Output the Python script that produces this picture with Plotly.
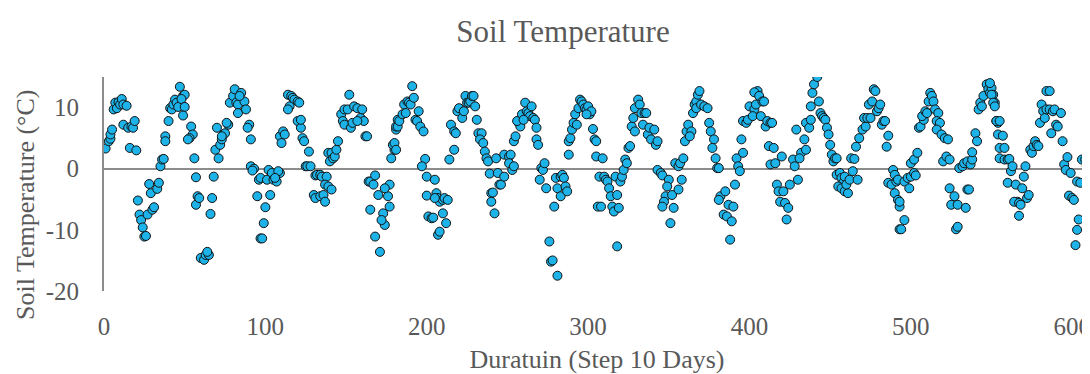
import plotly.graph_objects as go

# Step index (10-day steps) and soil temperature (°C)
step = [
    1, 3, 4, 4, 5, 6, 7, 8, 9, 10, 11, 12, 14, 12, 15, 17, 18, 19, 16, 20,
    21, 22, 23, 24, 25, 26, 27, 30, 31, 28, 29, 33, 34, 35, 36, 37, 38, 38, 40, 41,
    42, 43, 44, 45, 46, 47, 49, 50, 48, 50, 49, 54, 55, 53, 52, 56, 57, 58, 57, 60,
    59, 62, 63, 65, 64, 66, 67, 68, 69, 71, 70, 72, 73, 74, 75, 77, 76, 73,
    78, 80, 81, 82, 83, 85, 87, 84, 83, 88, 90, 89, 91, 91, 93, 92, 95, 96, 97,
    100, 99, 97, 98, 101, 102, 104, 105, 107, 109, 108, 106, 103,
    109, 111, 112, 110, 114, 116, 117, 118, 115, 114, 120, 122,
    120, 121, 122, 123, 124, 125, 127, 126, 128, 131, 132, 134, 135, 138, 137, 139, 141,
    130, 131, 134, 136, 137, 139, 140, 141, 142, 143, 144, 145,
    147, 148, 149, 151, 152, 149, 153, 154, 155, 157, 159, 160, 161, 157, 162, 163,
    164, 165, 167, 168, 170, 165, 173, 174, 172, 176, 177, 174, 177, 168, 171,
    178, 180, 179, 181, 181, 182,
    180, 181, 182, 183, 185, 186, 187, 188, 189, 190, 191, 192, 195, 193, 194, 196, 198,
    199, 197, 200, 205, 200, 206, 207, 208, 210, 211, 213, 205,
    201, 203, 204, 210, 212, 207, 208, 214, 217,
    215, 217, 218, 219, 220, 222, 223, 224, 225, 226, 227, 228, 229, 230, 231,
    232, 234, 233, 235, 236, 237, 238, 239, 240, 242, 240, 241, 243, 245, 244,
    246, 248, 248, 251, 252, 251, 253, 254, 254, 255,
    257, 258, 256, 259, 261, 262, 263, 265, 264, 266, 267, 268, 260, 268, 269,
    271, 272, 273, 270, 274, 279, 276, 277, 278, 281,
    280, 283, 284, 285, 281, 283, 286, 287,
    288, 288, 289, 290, 292, 291, 293, 294, 295, 296, 297, 298, 299, 300, 301, 302, 299,
    303, 304, 305, 305, 306, 307,
    310, 311, 312, 313, 314, 315, 316, 318, 319, 317, 309, 308, 318,
    320, 321, 322, 323, 324, 325, 326,
    327, 329, 328, 329, 331, 332, 333, 335, 336, 334, 337, 338, 341, 339, 342, 343,
    343, 345, 346, 350, 349, 348, 347, 346, 353, 351, 352, 356, 358,
    354, 356, 357, 359, 360, 361, 362, 364, 363, 365, 366, 367, 368, 369,
    367, 370, 372, 374, 375, 376, 378, 377, 379, 380, 381,
    382, 381, 385, 387, 390, 384, 386, 389, 388, 391,
    392, 393, 394, 396, 395,
    396, 398, 399, 400, 403, 402, 404, 405, 403, 406, 408, 409, 407, 410, 411, 413, 414,
    412, 415, 413, 416, 420,
    417, 418, 419, 421, 422, 424, 423, 425, 427, 428, 429, 430,
    432, 435, 434, 431,
    435, 437, 438, 438, 439, 440, 442, 443, 444, 445, 446, 447, 448, 449, 450, 451,
    452, 453, 454,
    454, 456, 457, 458, 459, 455, 457, 459, 461, 460,
    462, 464, 467, 463, 465,
    466, 468, 470, 472, 471, 473, 475, 474, 476, 477, 478, 479, 480, 481, 482, 483, 484,
    485, 486,
    486, 488, 489, 490, 491, 490, 492, 493, 493,
    492, 496, 498, 500, 499, 502, 503, 500, 502, 504,
    493, 496, 494,
    505, 506, 508, 507, 509, 510, 511, 512, 513, 514, 515, 517, 516, 518, 516, 519, 521, 523,
    520, 522, 524, 530, 532, 533, 535, 537, 538, 538,
    524, 527, 525, 529, 534, 535, 536, 528, 529,
    540, 541, 542, 543, 544, 545, 547, 548, 549, 550, 549, 551, 552, 553, 554, 554, 555, 555,
    550, 551, 552, 553, 555, 557, 558, 558, 560, 561, 562, 563, 560, 565, 566, 564, 567,
    568, 569, 571, 570, 572, 573, 567,
    574, 575, 576, 577, 578, 579,
    580, 581, 582, 583, 584, 586, 584, 586, 588, 589, 593, 587, 590, 591, 594,
    595, 596, 597, 599, 603, 605, 598, 600, 601, 604, 603, 602,
    606, 608, 609, 610, 609,
]

soil_temp = [
    3.3, 4.5, 4.9, 5.6, 6.4, 9.7, 10.8, 9.9, 10.9, 10.5, 11.4, 10.5, 10.3, 7.2, 6.7, 6.9, 6.7, 7.8, 3.4, 3.0,
    -5.2, -7.5, -8.4, -9.6, -11.1, -11.0, -7.5, -6.7, -6.3, -2.5, -4.0, -3.3, -2.3, 0.4, 1.5, 1.6, 5.3, 4.5, 7.8, 9.9,
    9.7, 10.5, 11.3, 10.8, 10.1, 13.4, 11.9, 12.1, 11.4, 10.1, 8.7, 6.9, 5.6, 5.0, 4.8, 1.7, -1.4, -4.5, -5.9, -14.6,
    -4.8, -14.9, -14.1, -14.1, -13.6, -7.4, -4.8, -1.3, 3.1, 1.7, 6.7, 3.9, 4.8, 5.6, 5.8, 7.2, 7.5, 5.3,
    10.8, 11.9, 13.0, 10.8, 10.5, 12.4, 11.0, 11.9, 9.1, 9.7, 7.2, 6.7, 4.8, 0.4, 0.0, -0.3, -4.5, -1.8, -1.5,
    -6.3, -8.9, -11.4, -11.4, -1.8, -0.2, -0.7, -1.8, -2.1, -0.7, -0.4, -1.5, -4.3,
    5.3, 6.1, 5.6, 4.2, 12.1, 11.9, 11.6, 11.3, 10.2, 9.7, 7.8, 6.7,
    11.0, 10.8, 8.0, 5.0, 4.5, 0.4, 2.8, 0.4, 0.4, -1.1, -1.0, -1.0, -1.3, -1.3, -2.6, -2.9, -3.4,
    -4.3, -4.8, -4.5, -4.3, -5.4, 2.6, 1.2, 2.6, 1.7, 2.0, 3.1, 4.5,
    8.9, 7.8, 9.7, 9.7, 12.1, 7.2, 6.7, 7.5, 10.2, 9.9, 8.3, 9.7, 7.8, 7.8, 5.3, 5.3,
    -2.1, -2.1, -2.6, -1.1, -4.3, -6.7, -7.3, -9.2, -8.4, -4.5, -2.6, -3.2, -6.2, -11.1, -13.6,
    1.7, 3.1, 3.9, 6.4, 6.9, 8.0,
    4.2, 3.1, 6.9, 7.8, 8.9, 10.5, 9.1, 11.0, 10.8, 10.5, 13.5, 11.6, 9.4, 8.0, 7.8, 6.9, 6.1,
    1.6, 0.4, -1.3, -1.8, -4.4, -4.0, -4.8, -5.4, -5.1, -4.8, -5.1, -4.8,
    -7.8, -8.1, -8.0, -7.3, -8.9, -10.8, -10.3, 1.5, 3.1,
    7.2, 6.1, 5.8, 9.4, 9.9, 8.3, 9.4, 11.9, 10.8, 10.8, 11.0, 11.9, 11.9, 10.2, 8.0,
    5.8, 5.8, 4.8, 4.2, 2.8, 1.7, 1.2, -0.8, -4.0, -7.3, -5.4, -3.9, 1.7, -2.6, -0.7,
    -2.6, -1.3, 2.3, 2.0, 2.3, 0.9, -0.2, 0.4, 4.5, 5.3,
    7.5, 6.9, 7.8, 8.9, 10.8, 9.4, 9.1, 10.2, 8.6, 8.3, 8.0, 6.7, 8.0, 4.8, 3.9,
    0.1, -0.2, 0.9, -1.8, -3.2, -6.2, -11.9, -15.2, -15.0, -17.5,
    -1.5, -1.3, -1.0, -1.5, -3.2, -4.5, -2.9, -3.7,
    2.3, 4.5, 5.0, 6.4, 8.9, 7.5, 7.2, 9.9, 11.3, 11.0, 10.5, 9.9, 9.7, 10.2, 8.9, 9.4, 8.9,
    6.5, 4.8, 4.5, 2.0, -6.2, -1.3,
    -1.3, -1.8, -2.1, -3.2, -4.5, -6.2, -7.0, -4.3, -6.4, -1.3, 1.7, -6.2, -12.7,
    -2.1, -1.3, -0.2, 1.5, 0.9, 3.4, 3.7,
    6.9, 6.1, 8.3, 9.9, 11.3, 10.5, 9.1, 9.1, 9.1, 7.2, 5.6, 6.7, 6.4, 4.8, 3.9, 4.5,
    -0.2, -0.7, -1.1, -1.8, -2.9, -4.5, -5.4, -6.2, -6.4, -8.9, -4.3, -3.4, -1.8,
    0.9, 0.4, 0.9, 1.7, 4.5, 6.1, 7.2, 6.1, 5.3, 9.1, 10.5, 11.0, 12.1, 12.7,
    9.9, 10.5, 10.2, 9.9, 7.5, 6.1, 4.8, 3.4, 1.7, 0.1, 0.1,
    -4.5, -5.1, -3.7, -5.9, -6.2, -7.5, -7.8, -8.6, -11.6, -2.6,
    1.7, 0.4, -0.4, 2.6, 4.8,
    7.8, 7.5, 8.0, 10.2, 9.7, 8.6, 10.5, 12.7, 12.5, 11.9, 11.0, 11.0, 8.6, 6.9, 7.8, 7.5, 7.5,
    3.7, 3.4, 0.7, 0.9, 2.0,
    -2.6, -3.7, -5.4, -3.7, -5.6, -6.4, -8.3, -2.6, 1.5, 0.4, 6.4, -1.8,
    2.6, 3.1, 4.8, 1.7,
    7.5, 6.7, 8.0, 10.2, 12.4, 13.8, 15.0, 11.0, 9.1, 8.6, 8.3, 8.0, 6.7, 5.6, 3.9, 2.3,
    1.2, 1.7, 1.7,
    -1.0, -0.7, -1.5, -2.3, -1.3, -2.9, -3.2, -3.7, -4.0, -2.6,
    -1.8, -0.4, -1.8, 1.7, 1.6,
    3.6, 5.0, 6.4, 6.9, 8.3, 8.3, 8.3, 10.5, 11.0, 13.0, 12.7, 9.4, 9.9, 10.5, 7.2, 7.8, 7.8,
    3.6, 5.4,
    -2.3, -2.6, -0.2, -1.0, -2.1, -4.0, -5.1, -6.2, -9.9,
    -1.8, -2.1, -1.5, -1.3, -3.2, -0.7, -1.1, 0.9, 1.5, 2.6,
    -5.4, -8.4, -9.9,
    6.7, 6.9, 8.0, 8.6, 9.4, 9.1, 11.0, 12.4, 11.9, 11.0, 9.7, 9.1, 7.8, 7.5, 6.4, 5.6, 5.0, 4.8,
    1.2, 2.0, 1.5, 0.1, 0.4, 0.9, 1.2, 0.7, 1.5, 2.7,
    -3.2, -4.5, -5.9, -5.9, -6.4, -3.4, -3.4, -9.9, -9.5,
    5.8, 4.5, 9.7, 10.8, 10.2, 11.9, 13.8, 13.0, 12.4, 13.2, 14.0, 12.1, 10.8, 7.8, 7.5, 5.6, 3.4, 1.7,
    12.1, 10.8, 10.2, 7.8, 7.8, 5.4, 3.4, 1.5, 1.5, 1.6, -0.4, 0.4, -2.3, -2.6, -5.4, -5.4, -5.6,
    -5.9, -3.2, 0.4, -1.3, -4.8, -4.3, -7.7,
    3.1, 2.6, 3.7, 4.5, 3.9, 3.7,
    7.5, 10.5, 9.4, 8.3, 12.7, 12.7, 9.7, 9.7, 9.4, 9.7, 9.1, 5.8, 7.2, 6.9, 4.5,
    0.7, -0.2, 1.9, -0.7, -2.1, -2.3, -4.4, -4.8, -5.1, -8.3, -10.0, -12.5,
    1.5, 1.5, 1.2, 2.8, 0.4,
]

x_ticks = [0, 100, 200, 300, 400, 500, 600]
y_ticks = [-20, -10, 0, 10]

n = min(len(step), len(soil_temp))
step = step[:n]
soil_temp = soil_temp[:n]

TEXT = "#595959"
AXIS = "#8c8c8c"
FONT = "Liberation Serif, Times New Roman, serif"

fig = go.Figure()
fig.add_trace(go.Scatter(
    x=step, y=soil_temp, mode="markers",
    marker=dict(size=9, color="#1DB3E8", line=dict(color="#111111", width=1)),
    cliponaxis=True, showlegend=False,
))

# the page body adds an 8px offset; the figure is placed so the plot area
# spans page x 104..1090 and y 77..291
fig.update_layout(
    width=1090, height=374,
    margin=dict(l=96, r=8, t=69, b=91),
    paper_bgcolor="white", plot_bgcolor="white",
    font=dict(family=FONT, color=TEXT, size=25),
    title=dict(text="Soil Temperature", xref="container", x=555 / 1090, xanchor="center",
               yref="container", y=1 - 23 / 374, yanchor="middle",
               font=dict(size=31, color=TEXT, family=FONT)),
    annotations=[dict(
        text="Soil Temperature (°C)", textangle=-90,
        xref="paper", yref="paper", x=(17 - 96) / 986, y=(283 - 197) / 214,
        xanchor="center", yanchor="middle", showarrow=False,
        font=dict(size=26, color=TEXT, family=FONT),
    )],
)

fig.update_xaxes(
    range=[0, 611], tickvals=x_ticks, ticktext=[str(v) for v in x_ticks],
    showgrid=False, zeroline=False, showline=False, ticks="",
    tickfont=dict(size=25, color=TEXT), ticklabelstandoff=18,
    title=dict(text="Duratuin (Step 10 Days)", font=dict(size=26, color=TEXT), standoff=10),
)
fig.update_yaxes(
    range=[-20, 15], tickvals=y_ticks, ticktext=[str(v) for v in y_ticks],
    showgrid=False, zeroline=True, zerolinecolor=AXIS, zerolinewidth=2,
    showline=True, linecolor=AXIS, linewidth=2, ticks="",
    tickfont=dict(size=25, color=TEXT), ticklabelstandoff=18,
)

fig.write_html("out.html")
